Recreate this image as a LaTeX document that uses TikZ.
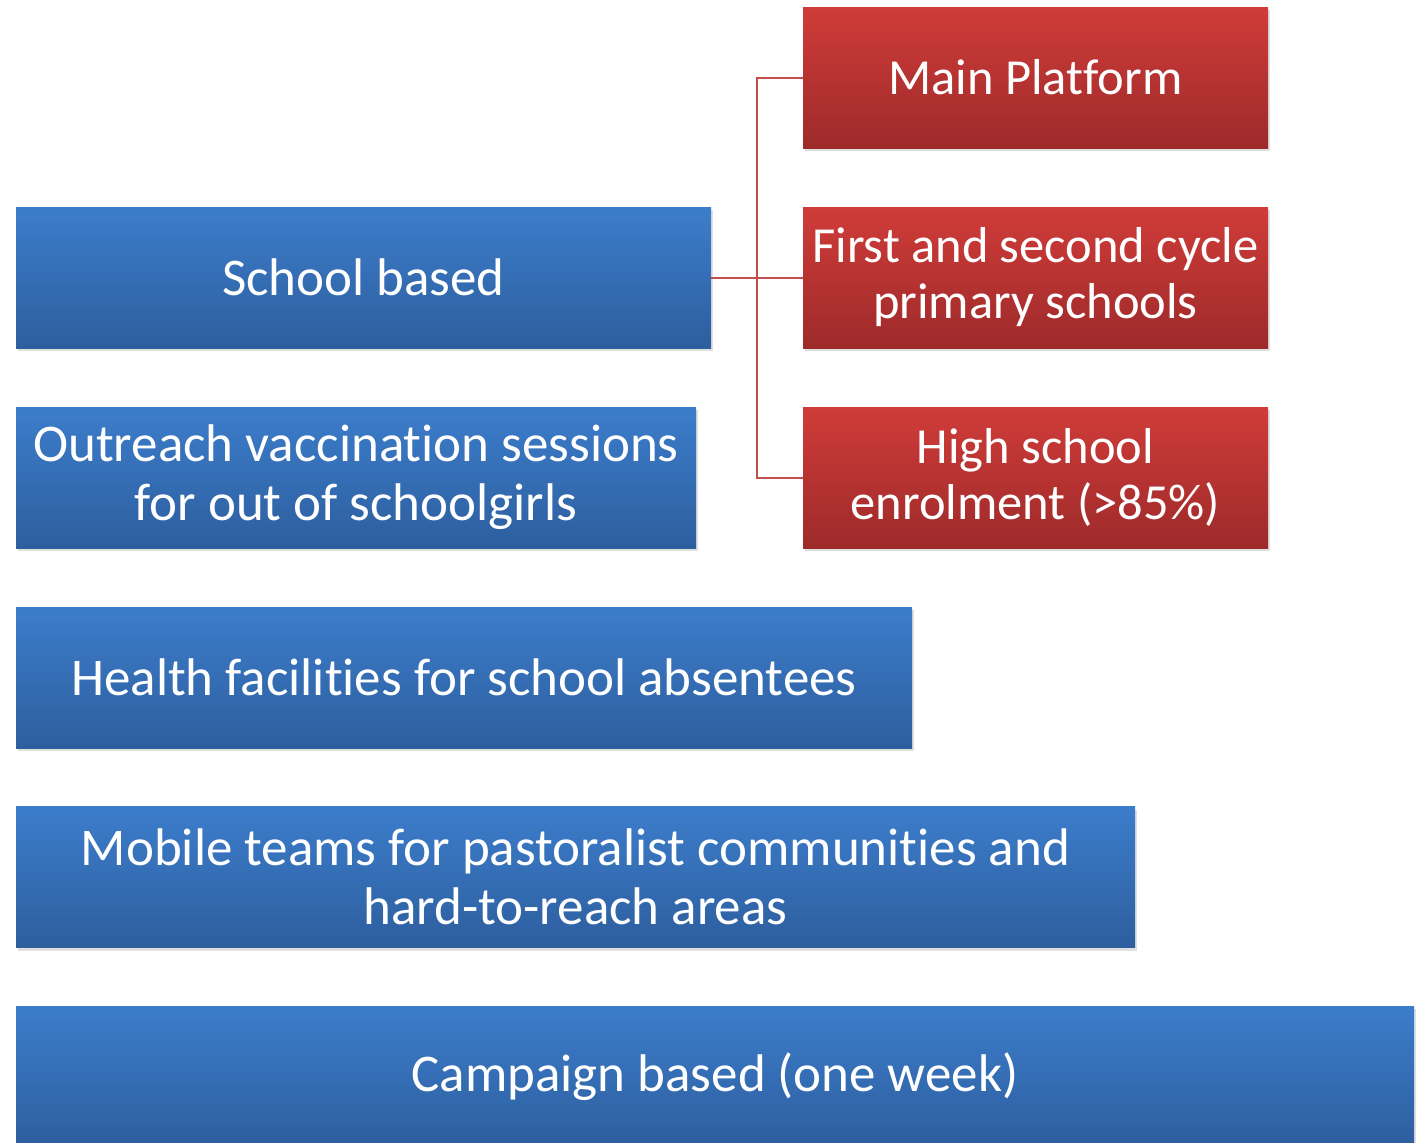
\documentclass[tikz,border=0pt]{standalone}
\usepackage{fontspec}
\setmainfont{Carlito}[RawFeature={-liga;-clig;-calt;-dlig}]
\usetikzlibrary{shadows}
\definecolor{blueTop}{HTML}{3C7DCB}
\definecolor{blueBot}{HTML}{2D5E9E}
\definecolor{redTop}{HTML}{D03C39}
\definecolor{redBot}{HTML}{9D2A2A}
\definecolor{linkRed}{HTML}{C0504D}
\tikzset{
  box/.style={rectangle, inner sep=0pt, minimum height=141pt, align=center,
    text=white, font=\fontsize{53}{59}\selectfont,
    drop shadow={opacity=0.25, shadow xshift=2pt, shadow yshift=-3pt}},
  bluebox/.style={box, top color=blueTop, middle color=blueTop!55!blueBot, bottom color=blueBot},
  redbox/.style={box, minimum width=465pt, font=\fontsize{50.5}{56}\selectfont,
    top color=redTop, middle color=redTop!55!redBot, bottom color=redBot},
  link/.style={draw=linkRed, line width=2pt}
}
\begin{document}
\begin{tikzpicture}[x=1pt,y=-1pt]
\useasboundingbox (0,0) rectangle (1422,1143);
\clip (0,0) rectangle (1422,1143);
% red column
\node[redbox] (main) at (1035.5,77.5) {Main Platform};
\node[redbox] (cycle) at (1035.5,277.5) {First and second cycle\\primary schools};
\node[redbox] (high) at (1035.5,477.5) {High school\\enrolment (>85\%)};
% blue column
\node[bluebox, minimum width=695pt] (school) at (363.5,277.5) {School based};
\node[bluebox, minimum width=680pt] (outreach) at (356,477.5) {Outreach vaccination sessions\\for out of schoolgirls};
\node[bluebox, minimum width=896pt] (health) at (464,677.5) {Health facilities for school absentees};
\node[bluebox, minimum width=1119pt] (mobile) at (575.5,877) {Mobile teams for pastoralist communities and\\hard-to-reach areas};
\node[bluebox, minimum width=1398pt] (campaign) at (715,1076.5) {Campaign based (one week)};
% connectors
\draw[link] (school.east) -- ++(46,0) coordinate (hub);
\draw[link] (main.west) -| (hub) |- (high.west);
\draw[link] (hub) -- (cycle.west);
\end{tikzpicture}
\end{document}
